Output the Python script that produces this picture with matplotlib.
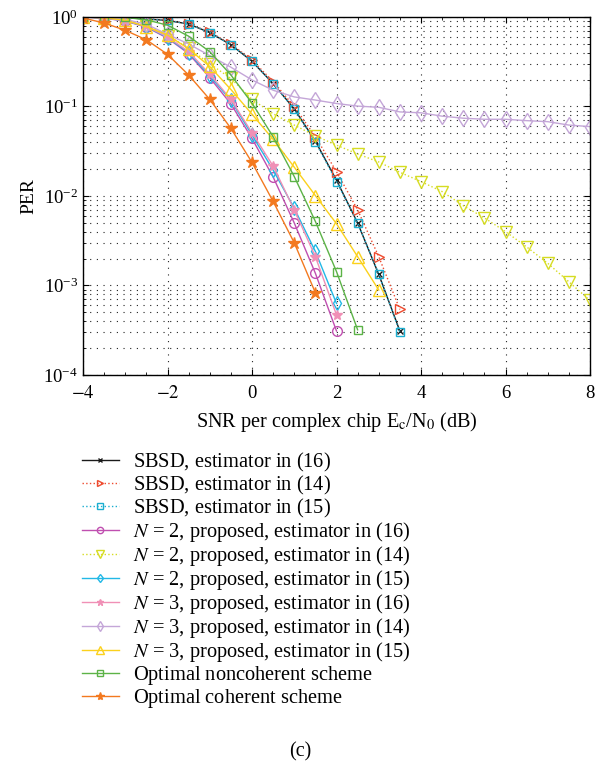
import numpy as np
import matplotlib
matplotlib.use("Agg")
import matplotlib.pyplot as plt
from matplotlib.ticker import FixedLocator, LogLocator, NullFormatter

plt.rcParams['font.family'] = ['Liberation Serif', 'DejaVu Serif']
plt.rcParams['mathtext.fontset'] = 'stix'

snr = np.arange(-4, 8.01, 0.5)

sbsd16 = [1.0, 0.995, 0.985, 0.95, 0.915, 0.835, 0.67, 0.49, 0.32, 0.18, 0.094, 0.041, 0.015, 0.005, 0.00133, 0.00031]
sbsd14 = [1.0, 0.995, 0.985, 0.955, 0.92, 0.84, 0.68, 0.50, 0.33, 0.19, 0.10, 0.046, 0.0187, 0.0070, 0.0021, 0.00054]
sbsd15 = [1.0, 0.995, 0.985, 0.95, 0.915, 0.835, 0.67, 0.49, 0.32, 0.18, 0.093, 0.040, 0.0145, 0.0050, 0.00135, 0.00030]
n2_16 = [1.0, 0.97, 0.90, 0.77, 0.58, 0.39, 0.21, 0.107, 0.044, 0.0163, 0.0050, 0.00137, 0.00031]
n2_14 = [1.0, 0.98, 0.93, 0.80, 0.62, 0.45, 0.30, 0.206, 0.12, 0.083, 0.062, 0.047, 0.037, 0.0295, 0.024,
         0.0184, 0.0145, 0.0112, 0.0078, 0.0057, 0.0040, 0.0027, 0.00177, 0.0011, 0.00068]
n2_15 = [1.0, 0.975, 0.905, 0.78, 0.59, 0.40, 0.22, 0.117, 0.048, 0.0195, 0.0073, 0.0024, 0.00063]
n3_16 = [1.0, 0.975, 0.91, 0.785, 0.60, 0.41, 0.23, 0.12, 0.051, 0.0216, 0.0070, 0.0021, 0.00047]
n3_14 = [1.0, 0.985, 0.94, 0.83, 0.64, 0.50, 0.37, 0.275, 0.198, 0.152, 0.128, 0.118, 0.108, 0.101, 0.098,
         0.087, 0.085, 0.078, 0.074, 0.072, 0.072, 0.0695, 0.0677, 0.062, 0.0596]
n3_15 = [1.0, 0.98, 0.92, 0.78, 0.63, 0.44, 0.28, 0.155, 0.082, 0.043, 0.021, 0.0101, 0.0049, 0.0021, 0.00089]
opt_nc = [1.0, 1.0, 0.99, 0.93, 0.81, 0.61, 0.41, 0.225, 0.109, 0.046, 0.0165, 0.0052, 0.00143, 0.00032]
opt_c = [0.975, 0.857, 0.71, 0.556, 0.383, 0.225, 0.12, 0.057, 0.0237, 0.0087, 0.0030, 0.00083]

labels = [
    'SBSD, estimator in (16)',
    'SBSD, estimator in (14)',
    'SBSD, estimator in (15)',
    r'$N$ = 2, proposed, estimator in (16)',
    r'$N$ = 2, proposed, estimator in (14)',
    r'$N$ = 2, proposed, estimator in (15)',
    r'$N$ = 3, proposed, estimator in (16)',
    r'$N$ = 3, proposed, estimator in (14)',
    r'$N$ = 3, proposed, estimator in (15)',
    'Optimal noncoherent scheme',
    'Optimal coherent scheme',
]
series = [sbsd16, sbsd14, sbsd15, n2_16, n2_14, n2_15, n3_16, n3_14, n3_15, opt_nc, opt_c]

styles = [
    dict(color='#1a1a1a', ls='-', marker='x', ms=4, mfc='none'),
    dict(color='#ee4a2e', ls=':', marker='>', ms=7, mfc='none'),
    dict(color='#1aaed0', ls=':', marker='s', ms=6, mfc='none'),
    dict(color='#c04fb0', ls='-', marker='o', ms=7, mfc='none'),
    dict(color='#d6dc22', ls=':', marker='v', ms=8, mfc='none'),
    dict(color='#22b8e6', ls='-', marker='d', ms=7, mfc='none'),
    dict(color='#f090b6', ls='-', marker='*', ms=7, mfc='#f090b6'),
    dict(color='#c4a6d8', ls='-', marker='d', ms=8, mfc='none'),
    dict(color='#fbd11c', ls='-', marker='^', ms=8, mfc='none'),
    dict(color='#5cb347', ls='-', marker='s', ms=6, mfc='none'),
    dict(color='#f3791f', ls='-', marker='*', ms=9, mfc='#f3791f'),
]

fig = plt.figure(figsize=(5.97, 7.79), dpi=100)
ax = fig.add_axes([83/597, 1-375/779, (590-83)/597, (375-17)/779])

handles = []
for y, lab, st in zip(series, labels, styles):
    h, = ax.semilogy(snr[:len(y)], y, color=st['color'], ls=st['ls'], lw=1.0,
                     marker=st['marker'], ms=st['ms'], mfc=st['mfc'],
                     mec=st['color'], mew=1.0, label=lab)
    handles.append(h)

ax.set_xlim(-4, 8)
ax.set_ylim(1e-4, 1)
ax.xaxis.set_major_locator(FixedLocator([-4, -2, 0, 2, 4, 6, 8]))
ax.xaxis.set_minor_locator(FixedLocator(np.arange(-4, 8.01, 0.5)))
ax.yaxis.set_major_locator(LogLocator(base=10, numticks=10))
ax.yaxis.set_minor_locator(LogLocator(base=10, subs=np.arange(2, 10), numticks=20))
ax.yaxis.set_minor_formatter(NullFormatter())
ax.set_xticklabels([r'$-4$', r'$-2$', '0', '2', '4', '6', '8'])

ax.tick_params(which='both', direction='in', top=True, right=True, labelsize=13.5)
ax.tick_params(axis='x', which='major', pad=7)
ax.tick_params(which='major', length=4, width=0.8)
ax.tick_params(which='minor', length=2, width=0.6)
for s in ax.spines.values():
    s.set_linewidth(1.0)

ax.grid(True, which='major', axis='x', color='#222222', ls=(0, (1, 5)), lw=0.8)
ax.grid(True, which='both', axis='y', color='#222222', ls=(0, (1, 5)), lw=0.8)

ax.set_xlabel(r'SNR per complex chip E$_\mathrm{c}$/N$_0$ (dB)', fontsize=14.6, labelpad=6)
ax.set_ylabel('PER', fontsize=14, labelpad=4)

# make every legend label go through mathtext so all rows share one height
leg_labels = [lab if '$' in lab else lab + r'$\,$' for lab in labels]
fig.legend(handles=handles, labels=leg_labels, loc='upper left',
           bbox_to_anchor=(82/597, 1-451/779), frameon=False, fontsize=14.7,
           handlelength=1.8, handletextpad=0.7, labelspacing=0.0, markerscale=0.65,
           borderaxespad=0, borderpad=0)

fig.text(300/597, 1-752/779, '(c)', ha='center', va='center', fontsize=14.5)

fig.savefig('out.png', dpi=100)
